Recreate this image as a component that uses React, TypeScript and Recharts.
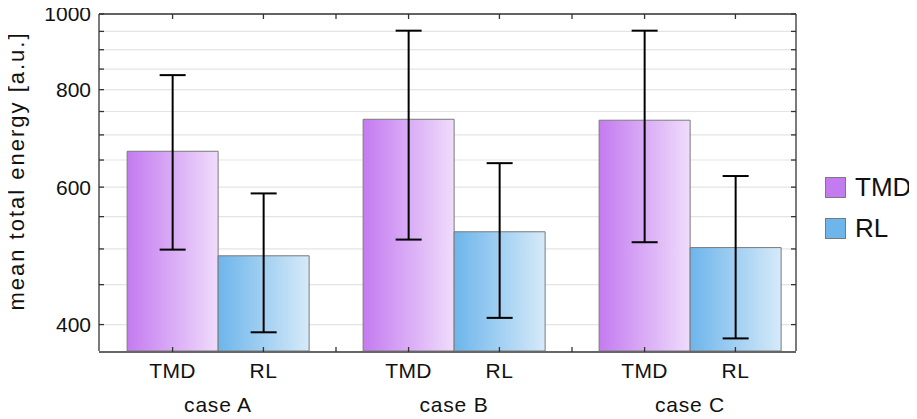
import { BarChart, Bar, XAxis, YAxis, CartesianGrid, ErrorBar, Legend } from 'recharts'

const cases = ['case A', 'case B', 'case C']
const seriesNames = ['TMD', 'RL']
const tmdMean = [667, 733, 731]
const tmdErr = [168, 219, 221]
const rlMean = [490, 526, 502]
const rlErr = [99, 118, 118]
const gridTicks = [400, 450, 500, 550, 600, 650, 700, 750, 800, 850, 900, 950, 1000]
const labelTicks = [400, 600, 800, 1000]

const data = cases.map((c, i) => ({
  case: c,
  slot: i + 0.5,
  TMD: tmdMean[i],
  TMDerr: tmdErr[i],
  RL: rlMean[i],
  RLerr: rlErr[i],
}))

const GAP = 0.115
// bar centres and group borders, in category units
const slotTicks: number[] = []
const slotNames: Record<string, string> = {}
cases.forEach((_, i) => {
  const a = i + GAP + (1 - 2 * GAP) / 4
  const b = i + GAP + (3 * (1 - 2 * GAP)) / 4
  slotTicks.push(a, b)
  slotNames[a.toFixed(4)] = seriesNames[0]
  slotNames[b.toFixed(4)] = seriesNames[1]
  if (i > 0) slotTicks.push(i)
})

const colors = { TMD: '#c47bf0', RL: '#6db5eb' }
const font = '"Liberation Sans", Arial, sans-serif'
const axisColor = '#333'
const pad = { left: 1, right: -12 }

function LegendBox() {
  return (
    <div style={{ fontFamily: font }}>
      {seriesNames.map((n) => (
        <div key={n} style={{ display: 'flex', alignItems: 'center', height: 41 }}>
          <span
            style={{
              width: 19,
              height: 19,
              flex: 'none',
              background: colors[n as keyof typeof colors],
              border: '1.5px solid #7a7a7a',
              marginRight: 9,
            }}
          />
          <span style={{ fontSize: 26, color: '#111' }}>{n}</span>
        </div>
      ))}
    </div>
  )
}

export default function App() {
  return (
    <BarChart
      width={909}
      height={411}
      data={data}
      margin={{ top: 5, right: 28, bottom: 66, left: 0 }}
      barCategoryGap={`${GAP * 100}%`}
      barGap={0}
      style={{ fontFamily: font }}
    >
      <defs>
        <linearGradient id="gTMD" x1="0" y1="0" x2="1" y2="0">
          <stop offset="0%" stopColor="#c47bf0" />
          <stop offset="100%" stopColor="#efdcfb" />
        </linearGradient>
        <linearGradient id="gRL" x1="0" y1="0" x2="1" y2="0">
          <stop offset="0%" stopColor="#6db5eb" />
          <stop offset="100%" stopColor="#d6eaf9" />
        </linearGradient>
      </defs>
      <CartesianGrid
        xAxisId="case"
        vertical={false}
        stroke="#e4e4e4"
        strokeWidth={1.2}
        horizontalValues={gridTicks}
      />
      <XAxis
        xAxisId="slot"
        dataKey="slot"
        type="number"
        domain={[0, 3]}
        allowDataOverflow
        ticks={slotTicks}
        height={1}
        padding={pad}
        tickSize={-5}
        tickMargin={16}
        interval={0}
        stroke={axisColor}
        strokeWidth={1.3}
        tickFormatter={(v: number) => slotNames[v.toFixed(4)] ?? ''}
        tick={{ fill: '#111', fontSize: 21, letterSpacing: 0.4 }}
      />
      <XAxis
        xAxisId="case"
        dataKey="case"
        height={1}
        padding={pad}
        axisLine={false}
        tickLine={false}
        tickMargin={40}
        tick={{ fill: '#111', fontSize: 21, letterSpacing: 0.8 }}
      />
      <XAxis
        xAxisId="top"
        orientation="top"
        dataKey="slot"
        type="number"
        domain={[0, 3]}
        allowDataOverflow
        ticks={slotTicks}
        height={1}
        padding={pad}
        tickSize={-5}
        interval={0}
        stroke={axisColor}
        strokeWidth={1.3}
        tickFormatter={() => ''}
      />
      <YAxis
        scale="log"
        domain={[370, 1000]}
        allowDataOverflow
        ticks={gridTicks}
        interval={0}
        width={91}
        tickSize={-5}
        tickMargin={13}
        stroke={axisColor}
        strokeWidth={1.3}
        tickFormatter={(v: number) => (labelTicks.includes(v) ? String(v) : '')}
        tick={{ fill: '#111', fontSize: 21 }}
        label={{
          content: () => (
            <text
              x={16}
              y={163}
              transform="rotate(-90 16 163)"
              textAnchor="middle"
              fontSize={22}
              fill="#111"
              style={{ letterSpacing: 2 }}
            >
              mean total energy [a.u.]
            </text>
          ),
        }}
      />
      <YAxis
        yAxisId="right"
        orientation="right"
        scale="log"
        domain={[370, 1000]}
        allowDataOverflow
        ticks={gridTicks}
        interval={0}
        width={1}
        tickSize={-5}
        stroke={axisColor}
        strokeWidth={1.3}
        tickFormatter={() => ''}
      />
      <Legend
        layout="vertical"
        align="right"
        verticalAlign="middle"
        wrapperStyle={{ left: 817, top: 159, width: 92 }}
        content={() => <LegendBox />}
      />
      <Bar xAxisId="case" dataKey="TMD" fill="url(#gTMD)" stroke="#7a7a7a" strokeWidth={1} isAnimationActive={false}>
        <ErrorBar dataKey="TMDerr" width={13} stroke="#000" strokeWidth={2} />
      </Bar>
      <Bar xAxisId="case" dataKey="RL" fill="url(#gRL)" stroke="#7a7a7a" strokeWidth={1} isAnimationActive={false}>
        <ErrorBar dataKey="RLerr" width={13} stroke="#000" strokeWidth={2} />
      </Bar>
    </BarChart>
  )
}
